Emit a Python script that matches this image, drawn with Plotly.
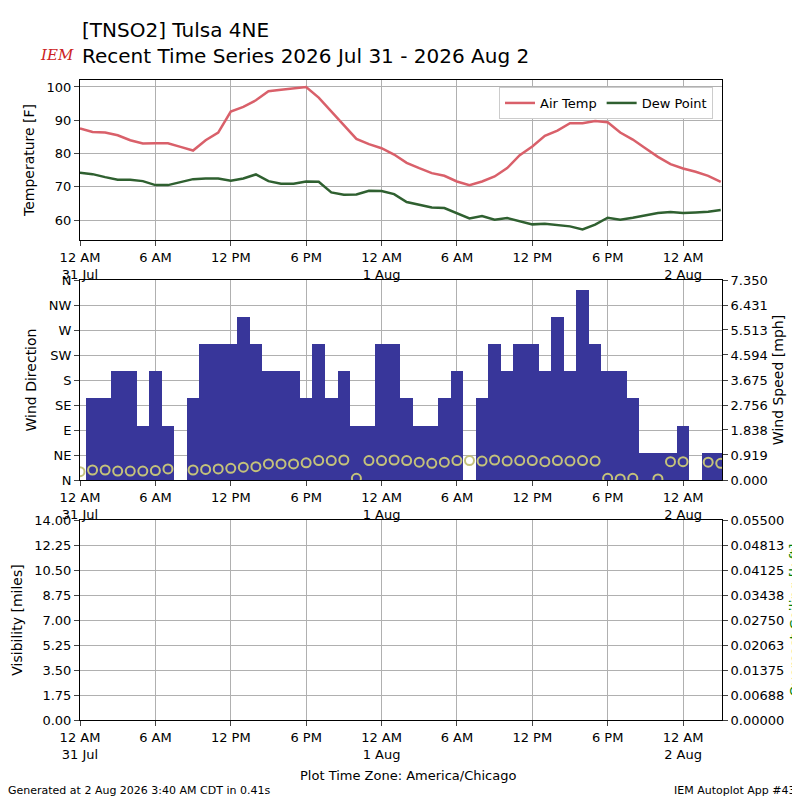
import plotly.graph_objects as go

hours = list(range(52))
air_temp = [87.5,86.5,86.3,85.5,84,83,83.1,83.1,82,80.9,84,86.3,92.6,94,96,98.7,99.2,99.6,100,96.8,92.6,88.6,84.4,82.8,81.6,79.7,77.2,75.6,74.1,73.3,71.6,70.5,71.6,73.1,75.6,79.5,82.1,85.3,86.9,89.1,89.1,89.8,89.4,86.3,84.2,81.6,79,76.8,75.5,74.5,73.3,71.5]
dew_point = [74.2,73.8,72.9,72.1,72.1,71.7,70.5,70.5,71.4,72.3,72.5,72.5,71.8,72.5,73.7,71.7,70.9,70.9,71.6,71.5,68.3,67.6,67.7,68.8,68.7,67.8,65.4,64.6,63.8,63.6,62.1,60.5,61.2,60.1,60.6,59.7,58.7,58.9,58.4,58.1,57.2,58.6,60.7,60.1,60.7,61.4,62.1,62.4,62.1,62.3,62.5,63]
wind_speed = [None,3,3,4,4,2,4,2,None,3,5,5,5,6,5,4,4,4,3,5,3,4,2,2,5,5,3,2,2,3,4,None,3,5,4,5,5,4,6,4,7,5,4,4,3,1,1,1,2,None,1,1]
wind_dir = [15,18,18,16,16,16,17,20,None,18,19,20,21,23,24,29,29,29,31,35,35,36,3,35,35,36,35,32,30,32,35,35,34,36,34,35,35,33,35,34,35,34,3,2,3,None,2,33,33,None,32,30]

xticks = [0,6,12,18,24,30,36,42,48]
xlabels = ["12 AM<br>31 Jul","6 AM","12 PM","6 PM","12 AM<br>1 Aug","6 AM","12 PM","6 PM","12 AM<br>2 Aug"]
dir_ticks = [0,45,90,135,180,225,270,315,360]
dir_labels = ["N","NE","E","SE","S","SW","W","NW","N"]
spd_ticks = [0,0.919,1.838,2.756,3.675,4.594,5.513,6.431,7.35]
spd_labels = ["0.000","0.919","1.838","2.756","3.675","4.594","5.513","6.431","7.350"]
vis_ticks = [0,1.75,3.5,5.25,7,8.75,10.5,12.25,14]
vis_labels = ["0.00","1.75","3.50","5.25","7.00","8.75","10.50","12.25","14.00"]
ceil_ticks = [0,0.006875,0.01375,0.020625,0.0275,0.034375,0.04125,0.048125,0.055]
ceil_labels = ["0.00000","0.00688","0.01375","0.02063","0.02750","0.03438","0.04125","0.04813","0.05500"]

def px(x): return (x - 80) / 642
def py(y): return (720 - y) / 640

fig = go.Figure()
fig.add_trace(go.Scatter(x=hours, y=air_temp, mode="lines", name="Air Temp",
                         line=dict(color="#d9606a", width=2.5), xaxis="x", yaxis="y"))
fig.add_trace(go.Scatter(x=hours, y=dew_point, mode="lines", name="Dew Point",
                         line=dict(color="#2f6030", width=2.5), xaxis="x", yaxis="y"))
fig.add_trace(go.Bar(x=hours, y=wind_speed, width=1, marker=dict(color="#38369a", line=dict(width=0)),
                     showlegend=False, xaxis="x2", yaxis="y2"))
fig.add_trace(go.Scatter(x=hours, y=wind_dir, mode="markers", showlegend=False,
                         marker=dict(symbol="circle-open", size=9, color="#c4c27a", line=dict(width=2)),
                         xaxis="x2", yaxis="y3"))
fig.add_trace(go.Scatter(x=[0], y=[None], showlegend=False, xaxis="x3", yaxis="y4"))
fig.add_trace(go.Scatter(x=[0], y=[None], showlegend=False, xaxis="x3", yaxis="y5"))

ax = dict(range=[0, 51.1], tickvals=xticks, ticktext=xlabels, showgrid=True, gridcolor="#b0b0b0",
          showline=True, linecolor="black", mirror=True, ticks="outside", ticklen=5,
          tickfont=dict(size=13, color="black"), zeroline=False, automargin=False)
yax = dict(showgrid=True, gridcolor="#b0b0b0", showline=True, linecolor="black", mirror=True,
           ticks="outside", ticklen=5, tickfont=dict(size=13, color="black"), zeroline=False,
           title_font=dict(size=14, color="black"), automargin=False)

fig.update_layout(
    width=800, height=800, margin=dict(l=72, r=86, t=72, b=88),
    plot_bgcolor="white", paper_bgcolor="white",
    font=dict(family="DejaVu Sans", color="black"),
    xaxis=dict(ax, domain=[0, 1], anchor="y"),
    xaxis2=dict(ax, domain=[0, 1], anchor="y2"),
    xaxis3=dict(ax, domain=[0, 1], anchor="y4"),
    yaxis=dict(yax, domain=[0.75, 1], range=[54, 102.1], tickvals=[60,70,80,90,100],
               title=dict(text="Temperature [F]", standoff=8)),
    yaxis2=dict(yax, domain=[0.375, 0.6875], range=[0, 7.35], side="right", anchor="x2",
                tickvals=spd_ticks, ticktext=spd_labels, showgrid=False, mirror=False,
                title=dict(text="Wind Speed [mph]", standoff=6)),
    yaxis3=dict(yax, range=[0, 360], overlaying="y2", side="left", anchor="x2",
                tickvals=dir_ticks, ticktext=dir_labels, mirror=False,
                title=dict(text="Wind Direction", standoff=8)),
    yaxis4=dict(yax, domain=[0, 0.3125], range=[0, 14], anchor="x3", tickvals=vis_ticks, ticktext=vis_labels,
                title=dict(text="Visibility [miles]", standoff=8)),
    yaxis5=dict(yax, range=[0, 0.055], overlaying="y4", side="right", anchor="x3",
                tickvals=ceil_ticks, ticktext=ceil_labels, showgrid=False, mirror=False,
                title=dict(text="Overcast Ceiling [k ft]", font=dict(color="green", size=14), standoff=6)),
    legend=dict(x=px(713), y=py(87), xanchor="right", yanchor="top", orientation="h",
                bordercolor="#cccccc", borderwidth=1, bgcolor="white", font=dict(size=13)),
    bargap=0,
)
fig.add_annotation(text="[TNSO2] Tulsa 4NE<br>Recent Time Series 2026 Jul 31 - 2026 Aug 2",
                   x=px(80), y=py(16), xref="paper", yref="paper", xanchor="left", yanchor="top",
                   showarrow=False, align="left", font=dict(size=20, color="black"))
fig.add_annotation(text="<i>IEM</i>", x=px(38), y=py(44), xref="paper", yref="paper",
                   showarrow=False, font=dict(size=15, color="#cc2222", family="DejaVu Serif"))
fig.add_annotation(text="Plot Time Zone: America/Chicago", x=px(408), y=py(785), xref="paper", yref="paper",
                   showarrow=False, font=dict(size=13))
fig.add_annotation(text="Generated at 2 Aug 2026 3:40 AM CDT in 0.41s", x=px(6), y=py(799), xref="paper",
                   yref="paper", xanchor="left", showarrow=False, font=dict(size=11))
fig.add_annotation(text="IEM Autoplot App #43", x=px(798), y=py(799), xref="paper",
                   yref="paper", xanchor="right", showarrow=False, font=dict(size=11))
fig.write_html("out.html")
